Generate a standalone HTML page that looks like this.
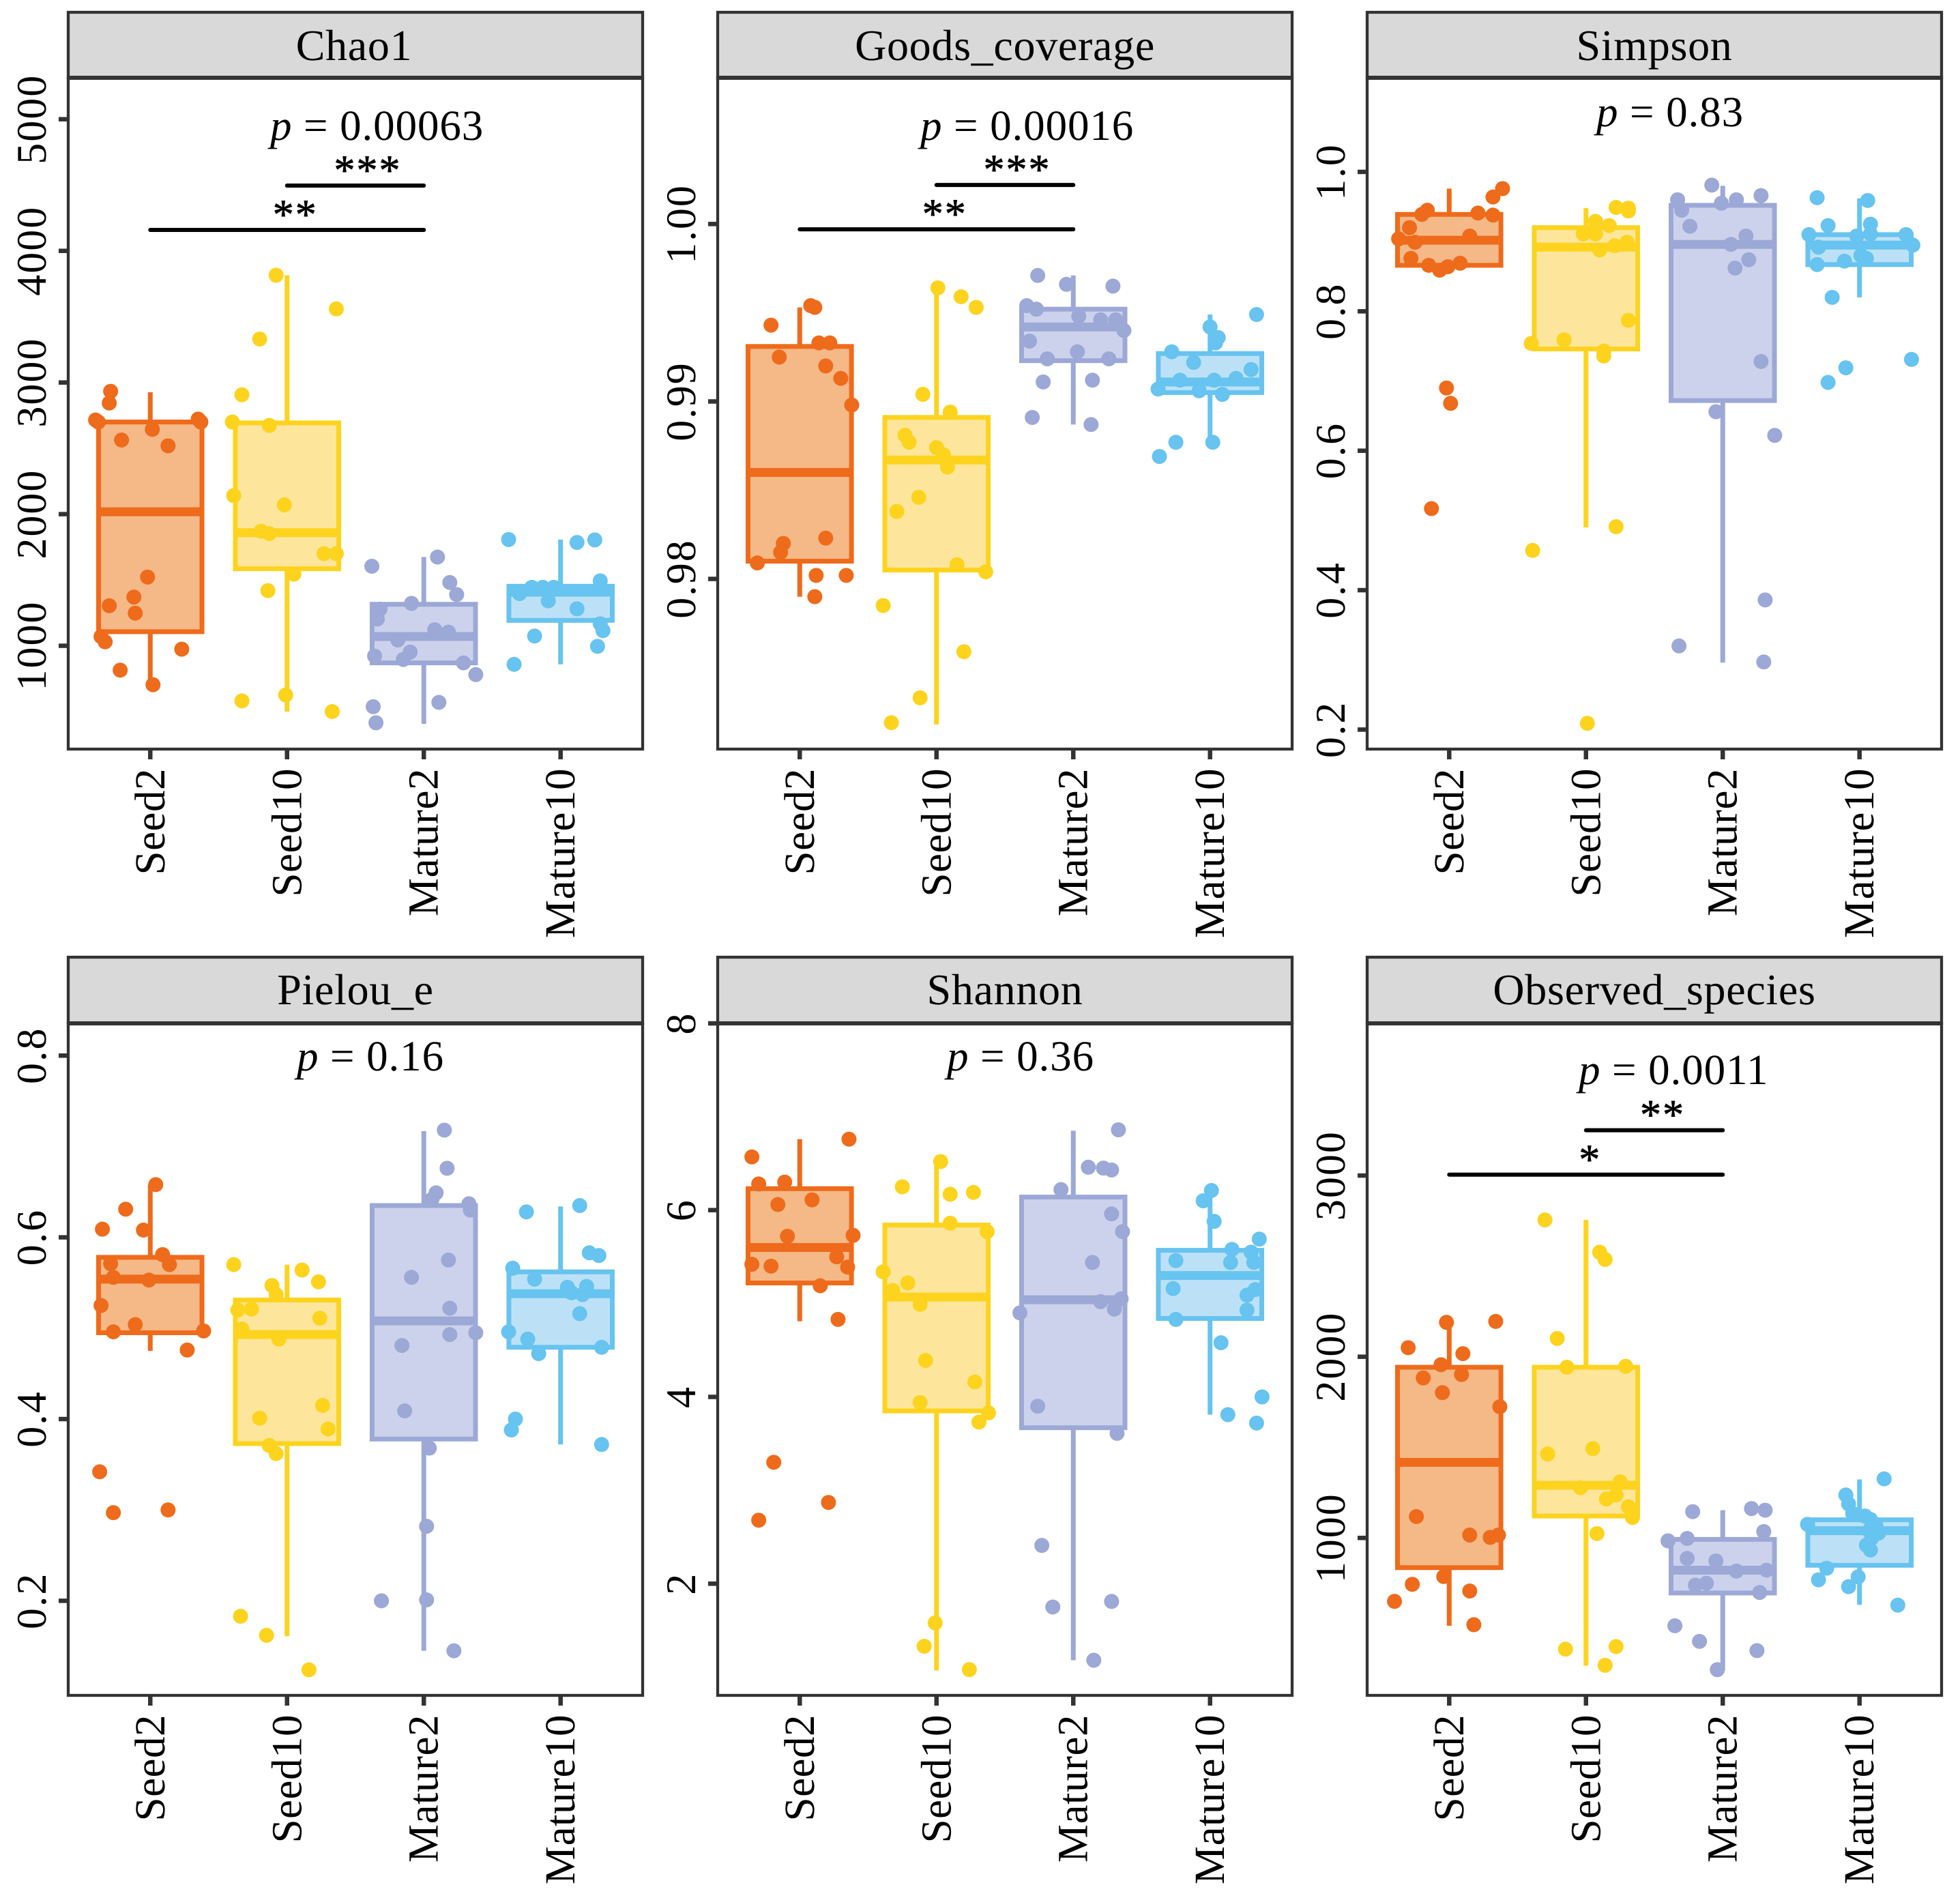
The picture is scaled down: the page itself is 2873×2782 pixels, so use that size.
<!DOCTYPE html>
<html lang="en">
<head>
<meta charset="utf-8">
<title>Alpha diversity boxplots</title>
<style>
html,body{margin:0;padding:0;background:#fff;}
svg{display:block;font-family:"Liberation Serif","Noto Serif CJK SC",serif;text-rendering:geometricPrecision;}
.strip{fill:#d9d9d9;stroke:#333;stroke-width:4.3;}
.frame{fill:#fff;stroke:#333;stroke-width:4.3;}
.sep{stroke:#333;stroke-width:6;}
.title{font-size:64px;text-anchor:middle;fill:#000;letter-spacing:.7px;}
.plabel{font-size:63px;fill:#000;letter-spacing:.9px;}
.x-tick-label{font-size:63px;fill:#000;letter-spacing:.5px;}
.y-tick-label{font-size:62px;fill:#000;letter-spacing:2px;}
</style>
</head>
<body>
<svg id="figure" xmlns="http://www.w3.org/2000/svg" width="2873" height="2782" viewBox="0 0 2873 2782">
  <rect x="0" y="0" width="2873" height="2782" fill="#fff"/>

  <g id="panel-chao1">
    <rect class="strip" x="100" y="18" width="842" height="96"/>
    <rect class="frame" x="100" y="114" width="842" height="984"/>
    <line class="sep" x1="100" x2="942" y1="114" y2="114"/>
    <text class="title" x="519" y="88">Chao1</text>
    <text class="plabel" x="396" y="205"><tspan font-style="italic">p</tspan> = 0.00063</text>
  </g>

  <g id="panel-goods">
    <rect class="strip" x="1052" y="18" width="842" height="96"/>
    <rect class="frame" x="1052" y="114" width="842" height="984"/>
    <line class="sep" x1="1052" x2="1894" y1="114" y2="114"/>
    <text class="title" x="1473" y="88">Goods_coverage</text>
    <text class="plabel" x="1349" y="205"><tspan font-style="italic">p</tspan> = 0.00016</text>
  </g>

  <g id="panel-simpson">
    <rect class="strip" x="2004" y="18" width="842" height="96"/>
    <rect class="frame" x="2004" y="114" width="842" height="984"/>
    <line class="sep" x1="2004" x2="2846" y1="114" y2="114"/>
    <text class="title" x="2425" y="88">Simpson</text>
    <text class="plabel" x="2340" y="185"><tspan font-style="italic">p</tspan> = 0.83</text>
  </g>

  <g id="panel-pielou">
    <rect class="strip" x="100" y="1403" width="842" height="97"/>
    <rect class="frame" x="100" y="1500" width="842" height="985"/>
    <line class="sep" x1="100" x2="942" y1="1500" y2="1500"/>
    <text class="title" x="521" y="1472">Pielou_e</text>
    <text class="plabel" x="435" y="1569"><tspan font-style="italic">p</tspan> = 0.16</text>
  </g>

  <g id="panel-shannon">
    <rect class="strip" x="1052" y="1403" width="842" height="97"/>
    <rect class="frame" x="1052" y="1500" width="842" height="985"/>
    <line class="sep" x1="1052" x2="1894" y1="1500" y2="1500"/>
    <text class="title" x="1473" y="1472">Shannon</text>
    <text class="plabel" x="1388" y="1569"><tspan font-style="italic">p</tspan> = 0.36</text>
  </g>

  <g id="panel-observed">
    <rect class="strip" x="2004" y="1403" width="842" height="97"/>
    <rect class="frame" x="2004" y="1500" width="842" height="985"/>
    <line class="sep" x1="2004" x2="2846" y1="1500" y2="1500"/>
    <text class="title" x="2425" y="1472">Observed_species</text>
    <text class="plabel" x="2314" y="1589"><tspan font-style="italic">p</tspan> = 0.0011</text>
  </g>
</svg>

<script>
const categories = ['Seed2', 'Seed10', 'Mature2', 'Mature10'];

/* ---- Chao1 ---- */
const chao1Ticks = ['1000', '2000', '3000', '4000', '5000'];
const chao1Box = [[704, 1107, 2018, 2700, 2926], [500, 1585, 1859, 2693, 3815], [407, 870, 1070, 1315, 1674], [859, 1193, 1407, 1452, 1807]];
const chao1Values = [
  [2933, 2844, 2715, 2700, 2722, 2700, 2644, 2563, 2519, 1522, 1370, 1304, 1248, 1070, 1030, 974, 815, 704],
  [3815, 3559, 3330, 2907, 2700, 2674, 2141, 2070, 1870, 1852, 1700, 1700, 1544, 1419, 581, 626, 500],
  [1674, 1604, 1481, 1389, 1322, 1278, 1204, 1122, 1104, 1044, 952, 922, 896, 870, 781, 570, 537, 415],
  [1807, 1785, 1804, 1493, 1444, 1444, 1444, 1396, 1341, 1281, 1167, 1115, 1074, 996, 859]
];
const chao1Jitter = [
  [-.29, -.30, -.40, -.38, .35, .37, .015, -.21, .13, -.02, -.12, -.30, -.11, -.36, -.33, .23, -.22, .02],
  [-.08, .36, -.20, -.33, -.40, -.13, -.39, -.02, -.19, -.13, .27, .36, .05, -.14, -.33, -.01, .33],
  [.10, -.38, .19, .24, -.09, -.32, -.34, .08, .18, -.19, -.10, -.36, -.15, .29, .38, .11, -.37, -.35],
  [-.38, .12, .25, .29, -.21, -.13, -.05, -.30, -.09, .12, .29, .31, -.19, .27, -.34]
];
const chao1SigLabels = ['***', '**'];
const chao1SigLevels = [4496, 4159];
const chao1SigFrom = [1, 0];
const chao1SigTo = [2, 2];

/* ---- Goods_coverage ---- */
const goodsTicks = ['0.98', '0.99', '1.00'];
const goodsBox = [[.9790, .9810, .9860, .9931, .9953], [.9718, .9805, .9867, .9891, .9964], [.9887, .9923, .9942, .9952, .9971], [.9877, .9905, .9911, .9927, .9949]];
const goodsValues = [
  [.9953, .9954, .9943, .9933, .9933, .9925, .9920, .9913, .9898, .9820, .9815, .9823, .9809, .9802, .9802, .9790],
  [.9964, .9959, .9953, .9904, .9894, .9881, .9877, .9874, .9870, .9863, .9846, .9838, .9808, .9804, .9785, .9759, .9733, .9719],
  [.9971, .9966, .9965, .9954, .9952, .9948, .9946, .9946, .9940, .9934, .9928, .9924, .9924, .9911, .9912, .9891, .9887],
  [.9949, .9942, .9936, .9933, .9928, .9922, .9918, .9913, .9912, .9912, .9907, .9906, .9904, .9877, .9877, .9869]
];
const goodsJitter = [
  [.11, .08, -.21, .14, .22, -.15, .19, .30, .38, -.12, -.14, .19, -.31, .12, .34, .11],
  [.01, .18, .29, -.10, .10, -.23, -.20, 0, .05, .08, -.13, -.29, .15, .36, -.39, .20, -.12, -.33],
  [-.26, -.05, .29, -.34, -.27, .04, .20, .31, .37, -.32, .03, -.19, .26, -.22, .14, -.30, .13],
  [.34, 0, .06, .04, -.28, -.12, .30, .19, -.22, .03, -.38, -.08, .09, -.25, .02, -.37]
];
const goodsSigLabels = ['***', '**'];
const goodsSigLevels = [1.0022, .9997];
const goodsSigFrom = [1, 0];
const goodsSigTo = [2, 2];

/* ---- Simpson ---- */
const simpsonTicks = ['0.2', '0.4', '0.6', '0.8', '1.0'];
const simpsonBox = [[.862, .866, .902, .939, .976], [.490, .746, .892, .920, .948], [.296, .672, .896, .952, .980], [.820, .867, .895, .910, .962]];
const simpsonValues = [
  [.976, .964, .945, .939, .941, .938, .920, .908, .904, .899, .876, .866, .859, .864, .869, .690, .668, .517],
  [.949, .948, .944, .929, .923, .911, .911, .899, .894, .888, .787, .759, .754, .743, .736, .491, .457, .209],
  [.981, .966, .960, .960, .955, .945, .922, .908, .896, .874, .862, .728, .656, .622, .386, .320, .297],
  [.963, .959, .923, .925, .910, .908, .911, .910, .892, .895, .867, .872, .880, .876, .820, .731, .719, .698]
];
const simpsonJitter = [
  [.39, .32, -.16, -.20, .21, .32, -.29, .15, -.37, -.25, -.28, -.15, -.07, -.01, .08, -.02, .01, -.13],
  [.22, .31, .31, .07, .17, -.02, .07, .30, .21, .10, .31, -.16, -.40, .13, .13, .22, -.39, .01],
  [-.08, .28, -.33, .10, -.01, -.30, -.24, .17, .06, .19, .09, .28, -.05, .38, .31, -.32, .30],
  [-.31, .06, -.23, .08, -.37, -.02, .08, .34, -.30, .39, -.31, -.11, .01, .05, -.20, .38, -.10, -.23]
];

/* ---- Pielou_e ---- */
const pielouTicks = ['0.2', '0.4', '0.6', '0.8'];
const pielouBox = [[.475, .495, .554, .578, .658], [.161, .373, .493, .531, .570], [.145, .378, .508, .635, .717], [.372, .479, .538, .562, .634]];
const pielouValues = [
  [.658, .631, .609, .608, .581, .570, .571, .556, .553, .525, .504, .496, .497, .476, .342, .297, .300],
  [.570, .564, .551, .547, .537, .520, .521, .511, .499, .488, .415, .401, .389, .371, .362, .183, .162, .124],
  [.718, .676, .649, .642, .637, .630, .575, .556, .522, .493, .495, .481, .409, .368, .282, .200, .201, .145],
  [.635, .628, .583, .580, .566, .554, .545, .546, .539, .537, .516, .496, .488, .479, .472, .400, .388, .372]
];
const pielouJitter = [
  [.04, -.18, -.35, -.05, .09, .14, -.29, -.27, -.01, -.36, -.11, -.27, .39, .27, -.37, -.27, .13],
  [-.39, .11, .23, -.11, -.08, -.36, -.26, .24, -.33, -.06, .26, -.20, .30, -.13, -.08, -.34, -.15, .16],
  [.15, .17, .09, .06, .33, .34, .18, -.09, .19, .19, .38, -.16, -.14, .04, .02, -.31, .02, .22],
  [.14, -.25, .21, .28, -.35, -.19, .05, .19, .08, .16, .14, -.38, -.24, .30, -.16, -.33, -.36, .30]
];

/* ---- Shannon ---- */
const shannonTicks = ['2', '4', '6', '8'];
const shannonBox = [[4.81, 5.22, 5.60, 6.23, 6.76], [1.07, 3.85, 5.07, 5.84, 6.51], [1.18, 3.67, 5.04, 6.14, 6.85], [3.81, 4.84, 5.30, 5.57, 6.20]];
const shannonValues = [
  [6.76, 6.57, 6.28, 6.30, 6.06, 6.11, 5.72, 5.73, 5.50, 5.42, 5.40, 5.39, 5.19, 4.83, 3.30, 2.87, 2.68],
  [6.52, 6.25, 6.17, 6.19, 5.86, 5.77, 5.34, 5.22, 5.14, 4.99, 4.39, 4.16, 3.94, 3.83, 3.73, 1.58, 1.33, 1.08],
  [6.86, 6.46, 6.45, 6.43, 6.22, 5.96, 5.77, 5.44, 5.05, 5.02, 4.94, 4.90, 3.90, 3.61, 2.41, 1.81, 1.75, 1.18],
  [6.21, 6.10, 5.88, 5.69, 5.58, 5.55, 5.46, 5.44, 5.44, 5.16, 5.15, 5.09, 4.93, 4.83, 4.58, 4.00, 3.81, 3.72]
];
const shannonJitter = [
  [.36, -.35, -.30, -.11, -.16, .09, -.09, .39, .27, -.35, -.21, .35, .15, .28, -.19, .21, -.30],
  [.03, -.25, .10, .27, .10, .37, -.39, -.21, -.32, -.12, -.08, .28, -.12, .38, .31, -.01, -.09, .24],
  [.33, .11, .22, .28, -.09, .28, .36, .14, .35, .20, .30, -.39, -.26, .32, -.23, .28, -.15, .15],
  [.01, -.05, .03, .36, .16, .30, -.25, .15, .32, -.27, .33, .27, .27, -.25, .08, .38, .13, .34]
];

/* ---- Observed_species ---- */
const observedTicks = ['1000', '2000', '3000'];
const observedBox = [[515, 836, 1417, 1942, 2184], [295, 1121, 1291, 1942, 2755], [268, 696, 822, 992, 1153], [631, 849, 1040, 1100, 1323]];
const observedValues = [
  [2190, 2195, 2050, 2017, 1956, 1883, 1902, 1802, 1724, 1118, 1016, 1003, 1016, 787, 744, 707, 650, 521],
  [2755, 2577, 2537, 2101, 1942, 1947, 1493, 1463, 1310, 1277, 1237, 1215, 1172, 1113, 1024, 386, 400, 297],
  [1162, 1153, 1145, 1035, 984, 997, 887, 873, 817, 822, 750, 739, 699, 515, 429, 378, 273],
  [1326, 1237, 1188, 1135, 1102, 1075, 1027, 960, 933, 833, 769, 785, 731, 629, 1121, 1067, 1040, 1000]
];
const observedJitter = [
  [-.02, .34, -.30, .10, -.06, -.19, .09, -.05, .37, -.24, .15, .30, .36, -.04, -.27, .15, -.40, .18],
  [-.30, .10, .14, -.21, -.14, .29, .05, -.28, .25, -.04, .22, .15, .31, .34, .08, -.15, .22, .14],
  [.21, .31, -.22, .30, -.40, -.26, -.26, -.05, .10, .32, -.12, -.20, .27, -.35, -.17, .25, -.04],
  [.18, -.10, -.08, -.05, .08, -.38, .14, .05, .08, -.24, -.30, -.01, -.08, .28, .04, .12, .07, .09]
];
const observedSigLabels = ['**', '*'];
const observedSigLevels = [3250, 3005];
const observedSigFrom = [1, 0];
const observedSigTo = [2, 2];

/* ---- drawing ---- */
const SVG_NS = 'http://www.w3.org/2000/svg';
const strokeColors = ['#ee6b1b', '#fdd31e', '#9ca8d6', '#67c3ef'];
const fillColors = ['#f5b887', '#fde69c', '#cdd2ec', '#bce1f6'];

function make(parent, tag, attrs, text) {
  const el = document.createElementNS(SVG_NS, tag);
  for (const k in attrs) el.setAttribute(k, attrs[k]);
  if (text !== undefined) el.textContent = text;
  parent.appendChild(el);
  return el;
}

function drawPanel(cfg) {
  const group = document.getElementById(cfg.id);
  const xAt = i => cfg.x0 + (i + 0.6) / 4.2 * (cfg.x1 - cfg.x0);
  const unit = (cfg.x1 - cfg.x0) / 4.2;
  const yAt = v => cfg.bottom - (v - cfg.domain[0]) / (cfg.domain[1] - cfg.domain[0]) * (cfg.bottom - cfg.top);

  cfg.ticks.forEach(label => {
    const y = yAt(parseFloat(label));
    const tick = make(group, 'line', { x1: cfg.x0 - 14, x2: cfg.x0, y1: y, y2: y, stroke: '#333', 'stroke-width': 6.5 });
    
    
    const lx = cfg.x0 - 33;
    const t = make(group, 'text', { class: 'y-tick-label', x: lx, y: y, 'text-anchor': 'middle', transform: 'rotate(-90 ' + lx + ' ' + y + ')' }, label);
    
    
  });

  categories.forEach((cat, i) => {
    const cx = xAt(i);
    const tick = make(group, 'line', { x1: cx, x2: cx, y1: cfg.bottom, y2: cfg.bottom + 15, stroke: '#333', 'stroke-width': 6.5 });
    
    
    const lx = cx + 20.5;
    const ly = cfg.bottom + 28;
    const t = make(group, 'text', { class: 'x-tick-label', x: lx, y: ly, 'text-anchor': 'end', transform: 'rotate(-90 ' + lx + ' ' + ly + ')' }, cat);
    
    

    const stats = cfg.box[i];
    const halfWidth = 0.378 * unit;
    const whiskerUp = make(group, 'line', { x1: cx, x2: cx, y1: yAt(stats[3]), y2: yAt(stats[4]), stroke: strokeColors[i], 'stroke-width': 7 });
    
    
    const whiskerDown = make(group, 'line', { x1: cx, x2: cx, y1: yAt(stats[1]), y2: yAt(stats[0]), stroke: strokeColors[i], 'stroke-width': 7 });
    
    
    const box = make(group, 'rect', { x: cx - halfWidth, y: yAt(stats[3]), width: 2 * halfWidth, height: yAt(stats[1]) - yAt(stats[3]), fill: fillColors[i], stroke: strokeColors[i], 'stroke-width': 7 });
    
    
    const median = make(group, 'line', { x1: cx - halfWidth, x2: cx + halfWidth, y1: yAt(stats[2]), y2: yAt(stats[2]), stroke: strokeColors[i], 'stroke-width': 13 });
    
    

    cfg.values[i].forEach((v, j) => {
      const dot = make(group, 'circle', { cx: cx + cfg.jitter[i][j] * unit, cy: yAt(v), r: 11, fill: strokeColors[i] });
      
      
    });
  });

  (cfg.sigLabels || []).forEach((label, k) => {
    const y = yAt(cfg.sigLevels[k]);
    const a = xAt(cfg.sigFrom[k]);
    const b = xAt(cfg.sigTo[k]);
    const bar = make(group, 'line', { x1: a, x2: b, y1: y, y2: y, stroke: '#000', 'stroke-width': 6, 'stroke-linecap': 'round' });
    
    
    const stars = make(group, 'text', { x: (a + b) / 2 + 6 * label.length, y: y - 2, 'text-anchor': 'middle', 'font-size': 62, 'letter-spacing': 2, fill: '#000', stroke: '#000', 'stroke-width': 0.8 }, label);
    
    
  });
}

drawPanel({ id: 'panel-chao1', x0: 100, x1: 942, top: 114, bottom: 1098, domain: [215, 5315], ticks: chao1Ticks, box: chao1Box, values: chao1Values, jitter: chao1Jitter, sigLabels: chao1SigLabels, sigLevels: chao1SigLevels, sigFrom: chao1SigFrom, sigTo: chao1SigTo });
drawPanel({ id: 'panel-goods', x0: 1052, x1: 1894, top: 114, bottom: 1098, domain: [.97041, 1.00824], ticks: goodsTicks, box: goodsBox, values: goodsValues, jitter: goodsJitter, sigLabels: goodsSigLabels, sigLevels: goodsSigLevels, sigFrom: goodsSigFrom, sigTo: goodsSigTo });
drawPanel({ id: 'panel-simpson', x0: 2004, x1: 2846, top: 114, bottom: 1098, domain: [.172, 1.135], ticks: simpsonTicks, box: simpsonBox, values: simpsonValues, jitter: simpsonJitter });
drawPanel({ id: 'panel-pielou', x0: 100, x1: 942, top: 1500, bottom: 2485, domain: [.0959, .8355], ticks: pielouTicks, box: pielouBox, values: pielouValues, jitter: pielouJitter });
drawPanel({ id: 'panel-shannon', x0: 1052, x1: 1894, top: 1500, bottom: 2485, domain: [.804, 8.0], ticks: shannonTicks, box: shannonBox, values: shannonValues, jitter: shannonJitter });
drawPanel({ id: 'panel-observed', x0: 2004, x1: 2846, top: 1500, bottom: 2485, domain: [131, 3840], ticks: observedTicks, box: observedBox, values: observedValues, jitter: observedJitter, sigLabels: observedSigLabels, sigLevels: observedSigLevels, sigFrom: observedSigFrom, sigTo: observedSigTo });
</script>
</body>
</html>
